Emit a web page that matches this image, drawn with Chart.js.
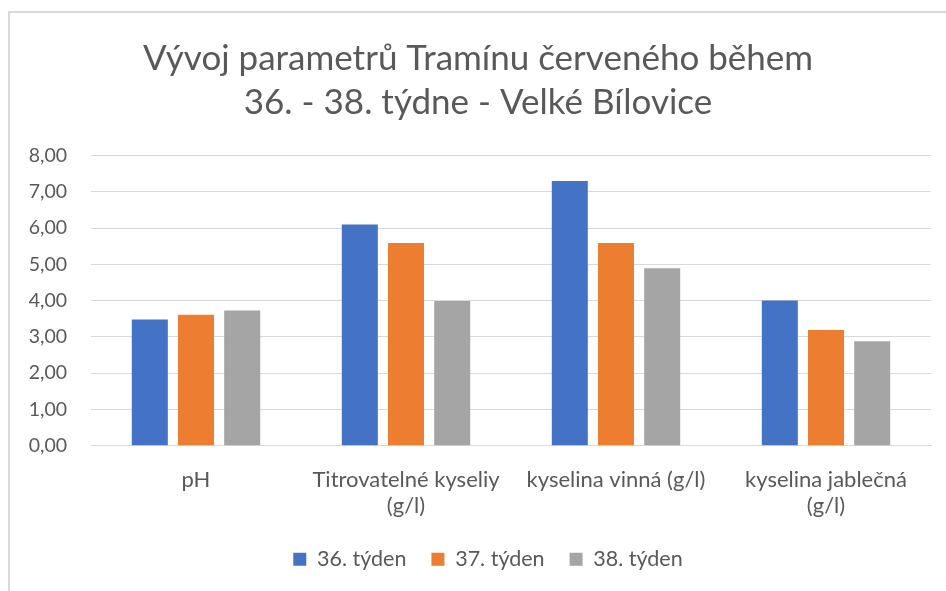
<!DOCTYPE html>
<html>
<head>
<meta charset="utf-8">
<script src="https://cdn.jsdelivr.net/npm/chart.js@4"></script>
<style>
  body { margin: 0; background: #fff; }
  #frame {
    position: absolute; left: 8px; top: 11px; width: 938px; height: 580px;
    border-left: 2px solid #d9d9d9; border-top: 2px solid #d9d9d9;
  }
</style>
</head>
<body>
<div id="frame"><canvas id="myChart"></canvas></div>
<script>
const categorias = [
  ["pH"],
  ["Titrovatelné kyseliy", "(g/l)"],
  ["kyselina vinná (g/l)"],
  ["kyselina jablečná", "(g/l)"]
];
const tyden36 = [3.48, 6.1, 7.3, 4.0];
const tyden37 = [3.61, 5.59, 5.59, 3.19];
const tyden38 = [3.73, 3.99, 4.89, 2.88];
const series = ["36. týden", "37. týden", "38. týden"];
const titulek = ["Vývoj parametrů Tramínu červeného během", "36. - 38. týdne - Velké Bílovice"];

const ctx = document.getElementById("myChart");
const font = "Lato, 'Open Sans', sans-serif";
const gris = "#595959";

// la leyenda de Excel esta un poco corrida a la derecha
const correrLeyenda = {
  id: "correrLeyenda",
  afterLayout: (chart) => { chart.legend.left += 20; }
};

new Chart(ctx, {
  type: "bar",
  data: {
    labels: categorias,
    datasets: [
      { label: series[0], data: tyden36, backgroundColor: "#4472c4" },
      { label: series[1], data: tyden37, backgroundColor: "#ed7d31" },
      { label: series[2], data: tyden38, backgroundColor: "#a5a5a5" }
    ]
  },
  options: {
    responsive: true,
    maintainAspectRatio: false,
    animation: false,
    categoryPercentage: 0.66,
    barPercentage: 0.78,
    layout: { padding: { left: 15, right: 17, top: 24, bottom: 13 } },
    plugins: {
      title: {
        display: true,
        text: titulek,
        color: gris,
        font: { family: font, size: 35, weight: "normal", lineHeight: 1.25 },
        padding: { top: 0, bottom: 31 }
      },
      legend: {
        position: "bottom",
        labels: {
          color: gris,
          font: { family: font, size: 21.5 },
          boxWidth: 13,
          boxHeight: 13,
          padding: 25
        }
      },
      tooltip: { enabled: false }
    },
    scales: {
      x: {
        afterFit: (scale) => { scale.height -= 9; },
        grid: { display: false },
        border: { color: "#d9d9d9" },
        ticks: {
          color: gris,
          font: { family: font, size: 22, lineHeight: 1.2 },
          padding: 13,
          maxRotation: 0
        }
      },
      y: {
        min: 0,
        max: 8,
        afterFit: (scale) => { scale.width = 66; },
        grid: { color: "#d9d9d9", drawTicks: false },
        border: { display: false },
        ticks: {
          stepSize: 1,
          color: gris,
          padding: 24,
          font: { family: font, size: 19.5 },
          callback: (v) => v.toFixed(2).replace(".", ",")
        }
      }
    }
  },
  plugins: [correrLeyenda]
});
</script>
</body>
</html>
